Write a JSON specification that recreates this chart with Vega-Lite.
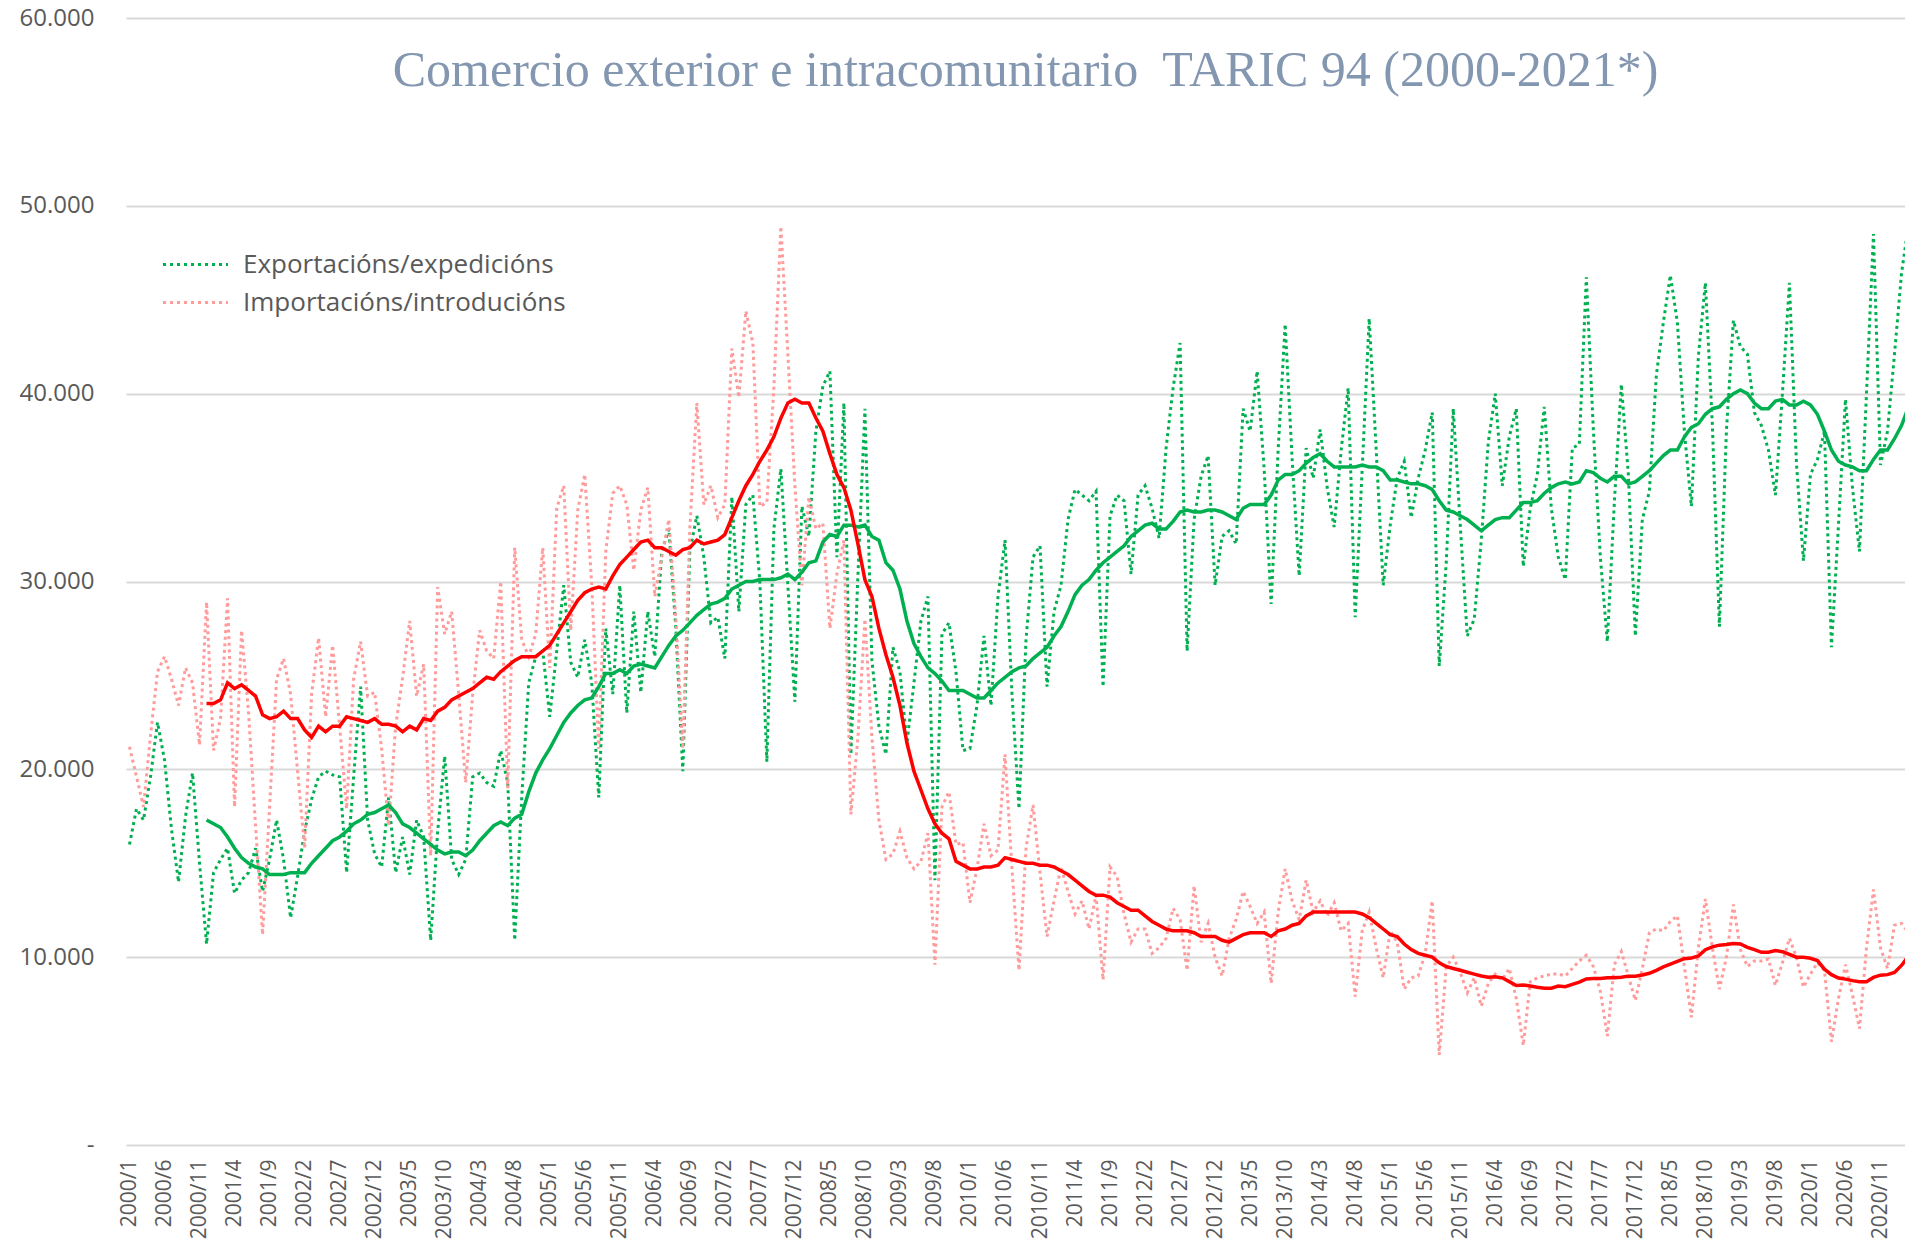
{
"$schema": "https://vega.github.io/schema/vega-lite/v6.json",
"width": 1779, "height": 1127,
"autosize": {"type": "none"},
"padding": {"left": 126, "top": 18, "right": 0, "bottom": 100},
"background": "white",
"config": {"view": {"stroke": null},
  "axisY": {"labelFont": "Open Sans", "labelFontSize": 24, "labelColor": "#595959", "labelPadding": 32,
            "ticks": false, "tickSize": 0, "domain": false, "grid": true, "gridColor": "#D9D9D9", "gridWidth": 2, "tickCount": 6}},
"title": {"text": "Comercio exterior e intracomunitario\u00a0 TARIC 94 (2000-2021*)", "font": "Liberation Serif", "fontSize": 50, "fontWeight": "normal", "color": "#8497B0", "anchor": "middle", "frame": "group", "offset": -90, "dx": 10},
"data": {"values": [
{"i":0,"exp":16000,"imp":21200},{"i":1,"exp":17900,"imp":19600},{"i":2,"exp":17300,"imp":18000},{"i":3,"exp":19600,"imp":21800},{"i":4,"exp":22500,"imp":25200},{"i":5,"exp":20500,"imp":26000},{"i":6,"exp":16800,"imp":24800},{"i":7,"exp":14000,"imp":23400},{"i":8,"exp":17500,"imp":25400},{"i":9,"exp":19800,"imp":24600},{"i":10,"exp":15000,"imp":21300},
{"i":11,"exp":10700,"imp":28900,"expMA":17300,"impMA":23500},{"i":12,"exp":14500,"imp":21000,"expMA":17100,"impMA":23500},{"i":13,"exp":15200,"imp":22700,"expMA":16900,"impMA":23700},{"i":14,"exp":15800,"imp":29100,"expMA":16400,"impMA":24600},{"i":15,"exp":13400,"imp":18000,"expMA":15800,"impMA":24300},{"i":16,"exp":14100,"imp":27400,"expMA":15300,"impMA":24500},{"i":17,"exp":14500,"imp":23000,"expMA":15000,"impMA":24200},{"i":18,"exp":15800,"imp":17000,"expMA":14800,"impMA":23900},{"i":19,"exp":13500,"imp":11200,"expMA":14700,"impMA":22900},{"i":20,"exp":15200,"imp":18000,"expMA":14400,"impMA":22700},
{"i":21,"exp":17300,"imp":24800,"expMA":14400,"impMA":22800},{"i":22,"exp":15200,"imp":25900,"expMA":14400,"impMA":23100},{"i":23,"exp":12100,"imp":24000,"expMA":14500,"impMA":22700},{"i":24,"exp":14300,"imp":19900,"expMA":14500,"impMA":22700},{"i":25,"exp":16700,"imp":15800,"expMA":14500,"impMA":22100},{"i":26,"exp":18400,"imp":24000,"expMA":15000,"impMA":21700},{"i":27,"exp":19600,"imp":27000,"expMA":15400,"impMA":22300},{"i":28,"exp":19900,"imp":22800,"expMA":15800,"impMA":22000},{"i":29,"exp":19700,"imp":26600,"expMA":16200,"impMA":22300},{"i":30,"exp":19600,"imp":22300,"expMA":16400,"impMA":22300},
{"i":31,"exp":14500,"imp":17900,"expMA":16700,"impMA":22800},{"i":32,"exp":19600,"imp":24800,"expMA":17100,"impMA":22700},{"i":33,"exp":24400,"imp":26800,"expMA":17300,"impMA":22600},{"i":34,"exp":17300,"imp":23900,"expMA":17600,"impMA":22500},{"i":35,"exp":15500,"imp":24100,"expMA":17700,"impMA":22700},{"i":36,"exp":14800,"imp":21100,"expMA":17900,"impMA":22400},{"i":37,"exp":18500,"imp":17000,"expMA":18100,"impMA":22400},{"i":38,"exp":14500,"imp":22300,"expMA":17700,"impMA":22300},{"i":39,"exp":16400,"imp":24900,"expMA":17100,"impMA":22000},{"i":40,"exp":14400,"imp":27900,"expMA":16900,"impMA":22300},
{"i":41,"exp":17300,"imp":23900,"expMA":16600,"impMA":22100},{"i":42,"exp":16400,"imp":25600,"expMA":16300,"impMA":22700},{"i":43,"exp":10900,"imp":15400,"expMA":16000,"impMA":22600},{"i":44,"exp":16700,"imp":29700,"expMA":15700,"impMA":23100},{"i":45,"exp":20700,"imp":27200,"expMA":15500,"impMA":23300},{"i":46,"exp":15200,"imp":28400,"expMA":15600,"impMA":23700},{"i":47,"exp":14400,"imp":24000,"expMA":15600,"impMA":23900},{"i":48,"exp":15200,"imp":19300,"expMA":15400,"impMA":24100},{"i":49,"exp":19600,"imp":24000,"expMA":15700,"impMA":24300},{"i":50,"exp":19800,"imp":27400,"expMA":16200,"impMA":24600},
{"i":51,"exp":19300,"imp":26300,"expMA":16600,"impMA":24900},{"i":52,"exp":19100,"imp":25900,"expMA":17000,"impMA":24800},{"i":53,"exp":21000,"imp":30000,"expMA":17200,"impMA":25200},{"i":54,"exp":19300,"imp":19000,"expMA":17000,"impMA":25500},{"i":55,"exp":10900,"imp":31800,"expMA":17400,"impMA":25800},{"i":56,"exp":18500,"imp":26900,"expMA":17600,"impMA":26000},{"i":57,"exp":24600,"imp":26000,"expMA":18800,"impMA":26000},{"i":58,"exp":26000,"imp":27200,"expMA":19800,"impMA":26000},{"i":59,"exp":26300,"imp":31800,"expMA":20500,"impMA":26300},{"i":60,"exp":22800,"imp":25400,"expMA":21100,"impMA":26600},
{"i":61,"exp":26300,"imp":33900,"expMA":21800,"impMA":27200},{"i":62,"exp":29800,"imp":35100,"expMA":22500,"impMA":27800},{"i":63,"exp":25700,"imp":27400,"expMA":23000,"impMA":28400},{"i":64,"exp":24900,"imp":33800,"expMA":23400,"impMA":29000},{"i":65,"exp":26900,"imp":35700,"expMA":23700,"impMA":29400},{"i":66,"exp":24600,"imp":29800,"expMA":23800,"impMA":29600},{"i":67,"exp":18500,"imp":21100,"expMA":24400,"impMA":29700},{"i":68,"exp":27500,"imp":31600,"expMA":25100,"impMA":29600},{"i":69,"exp":24000,"imp":34700,"expMA":25100,"impMA":30300},{"i":70,"exp":29800,"imp":35100,"expMA":25300,"impMA":30900},
{"i":71,"exp":23000,"imp":34100,"expMA":25100,"impMA":31300},{"i":72,"exp":28400,"imp":30600,"expMA":25500,"impMA":31700},{"i":73,"exp":24100,"imp":33800,"expMA":25600,"impMA":32100},{"i":74,"exp":28400,"imp":35000,"expMA":25500,"impMA":32200},{"i":75,"exp":26000,"imp":29200,"expMA":25400,"impMA":31800},{"i":76,"exp":31600,"imp":31300,"expMA":26000,"impMA":31800},{"i":77,"exp":32800,"imp":33300,"expMA":26600,"impMA":31600},{"i":78,"exp":27500,"imp":28100,"expMA":27100,"impMA":31400},{"i":79,"exp":19900,"imp":21100,"expMA":27400,"impMA":31700},{"i":80,"exp":31600,"imp":32800,"expMA":27800,"impMA":31800},
{"i":81,"exp":33500,"imp":39500,"expMA":28200,"impMA":32200},{"i":82,"exp":31300,"imp":34100,"expMA":28500,"impMA":32000},{"i":83,"exp":27800,"imp":35100,"expMA":28800,"impMA":32100},{"i":84,"exp":28100,"imp":33400,"expMA":28900,"impMA":32200},{"i":85,"exp":25900,"imp":34100,"expMA":29100,"impMA":32500},{"i":86,"exp":34500,"imp":42400,"expMA":29600,"impMA":33400},{"i":87,"exp":28400,"imp":39800,"expMA":29800,"impMA":34300},{"i":88,"exp":34100,"imp":44400,"expMA":30000,"impMA":35100},{"i":89,"exp":34600,"imp":42700,"expMA":30000,"impMA":35700},{"i":90,"exp":30000,"imp":34000,"expMA":30100,"impMA":36400},
{"i":91,"exp":20400,"imp":34200,"expMA":30100,"impMA":37000},{"i":92,"exp":32800,"imp":40300,"expMA":30100,"impMA":37700},{"i":93,"exp":36000,"imp":48900,"expMA":30200,"impMA":38700},{"i":94,"exp":29800,"imp":42100,"expMA":30400,"impMA":39500},{"i":95,"exp":23600,"imp":35100,"expMA":30100,"impMA":39700},{"i":96,"exp":34000,"imp":29800,"expMA":30500,"impMA":39500},{"i":97,"exp":32400,"imp":34500,"expMA":31000,"impMA":39500},{"i":98,"exp":38000,"imp":32800,"expMA":31100,"impMA":38700},{"i":99,"exp":40400,"imp":33100,"expMA":32100,"impMA":38000},{"i":100,"exp":41200,"imp":27500,"expMA":32500,"impMA":36800},
{"i":101,"exp":31300,"imp":30400,"expMA":32400,"impMA":35700},{"i":102,"exp":39500,"imp":32200,"expMA":33000,"impMA":35000},{"i":103,"exp":20800,"imp":17600,"expMA":33000,"impMA":33800},{"i":104,"exp":30300,"imp":21700,"expMA":32900,"impMA":32000},{"i":105,"exp":39200,"imp":28000,"expMA":33000,"impMA":30100},{"i":106,"exp":25800,"imp":21700,"expMA":32400,"impMA":29200},{"i":107,"exp":22300,"imp":17300,"expMA":32200,"impMA":27500},{"i":108,"exp":20800,"imp":15200,"expMA":31000,"impMA":26100},{"i":109,"exp":26500,"imp":15500,"expMA":30600,"impMA":24900},{"i":110,"exp":25200,"imp":16700,"expMA":29600,"impMA":23400},
{"i":111,"exp":21400,"imp":15300,"expMA":27900,"impMA":21400},{"i":112,"exp":24600,"imp":14700,"expMA":26700,"impMA":19900},{"i":113,"exp":27900,"imp":15100,"expMA":26000,"impMA":18900},{"i":114,"exp":29200,"imp":16600,"expMA":25400,"impMA":17900},{"i":115,"exp":14100,"imp":9600,"expMA":25100,"impMA":17100},{"i":116,"exp":27200,"imp":18000,"expMA":24700,"impMA":16600},{"i":117,"exp":27800,"imp":18800,"expMA":24200,"impMA":16300},{"i":118,"exp":25200,"imp":16000,"expMA":24200,"impMA":15100},{"i":119,"exp":21000,"imp":16100,"expMA":24200,"impMA":14900},{"i":120,"exp":21100,"imp":12900,"expMA":24000,"impMA":14700},
{"i":121,"exp":23400,"imp":14700,"expMA":23800,"impMA":14700},{"i":122,"exp":27100,"imp":17100,"expMA":23800,"impMA":14800},{"i":123,"exp":23400,"imp":15400,"expMA":24200,"impMA":14800},{"i":124,"exp":29200,"imp":15700,"expMA":24600,"impMA":14900},{"i":125,"exp":32200,"imp":20800,"expMA":24900,"impMA":15300},{"i":126,"exp":24000,"imp":14700,"expMA":25200,"impMA":15200},{"i":127,"exp":17900,"imp":9300,"expMA":25400,"impMA":15100},{"i":128,"exp":26900,"imp":15800,"expMA":25500,"impMA":15000},{"i":129,"exp":31300,"imp":18100,"expMA":25900,"impMA":15000},{"i":130,"exp":31900,"imp":14500,"expMA":26200,"impMA":14900},
{"i":131,"exp":24400,"imp":11100,"expMA":26500,"impMA":14900},{"i":132,"exp":28400,"imp":13000,"expMA":27100,"impMA":14800},{"i":133,"exp":29800,"imp":14800,"expMA":27600,"impMA":14600},{"i":134,"exp":33300,"imp":13500,"expMA":28400,"impMA":14400},{"i":135,"exp":34900,"imp":12300,"expMA":29300,"impMA":14100},{"i":136,"exp":34600,"imp":13000,"expMA":29800,"impMA":13800},{"i":137,"exp":34300,"imp":11500,"expMA":30100,"impMA":13500},{"i":138,"exp":34800,"imp":13300,"expMA":30600,"impMA":13300},{"i":139,"exp":24400,"imp":8800,"expMA":31000,"impMA":13300},{"i":140,"exp":33500,"imp":14800,"expMA":31300,"impMA":13200},
{"i":141,"exp":34600,"imp":14300,"expMA":31600,"impMA":12900},{"i":142,"exp":34300,"imp":12300,"expMA":31900,"impMA":12700},{"i":143,"exp":30400,"imp":10800,"expMA":32400,"impMA":12500},{"i":144,"exp":34600,"imp":11500,"expMA":32700,"impMA":12500},{"i":145,"exp":35100,"imp":11500,"expMA":33000,"impMA":12200},{"i":146,"exp":33900,"imp":10200,"expMA":33100,"impMA":11900},{"i":147,"exp":32300,"imp":10500,"expMA":32800,"impMA":11700},{"i":148,"exp":37100,"imp":11000,"expMA":32800,"impMA":11500},{"i":149,"exp":40300,"imp":12600,"expMA":33200,"impMA":11400},{"i":150,"exp":42700,"imp":12000,"expMA":33700,"impMA":11400},
{"i":151,"exp":26300,"imp":9300,"expMA":33800,"impMA":11400},{"i":152,"exp":33300,"imp":13800,"expMA":33700,"impMA":11300},{"i":153,"exp":35600,"imp":10800,"expMA":33700,"impMA":11100},{"i":154,"exp":36700,"imp":11800,"expMA":33800,"impMA":11100},{"i":155,"exp":29800,"imp":10000,"expMA":33800,"impMA":11100},{"i":156,"exp":32400,"imp":9000,"expMA":33700,"impMA":10900},{"i":157,"exp":32700,"imp":11000,"expMA":33500,"impMA":10800},{"i":158,"exp":32000,"imp":12000,"expMA":33300,"impMA":11000},{"i":159,"exp":39200,"imp":13500,"expMA":33900,"impMA":11200},{"i":160,"exp":38000,"imp":12700,"expMA":34100,"impMA":11300},
{"i":161,"exp":41200,"imp":11800,"expMA":34100,"impMA":11300},{"i":162,"exp":36000,"imp":12400,"expMA":34100,"impMA":11300},{"i":163,"exp":28800,"imp":8600,"expMA":34600,"impMA":11100},{"i":164,"exp":37000,"imp":12400,"expMA":35400,"impMA":11400},{"i":165,"exp":43700,"imp":14700,"expMA":35700,"impMA":11500},{"i":166,"exp":36500,"imp":13000,"expMA":35700,"impMA":11700},{"i":167,"exp":30300,"imp":12000,"expMA":35900,"impMA":11800},{"i":168,"exp":37100,"imp":14100,"expMA":36300,"impMA":12200},{"i":169,"exp":35500,"imp":12400,"expMA":36600,"impMA":12400},{"i":170,"exp":38100,"imp":13000,"expMA":36800,"impMA":12400},
{"i":171,"exp":35000,"imp":12200,"expMA":36400,"impMA":12400},{"i":172,"exp":32900,"imp":12900,"expMA":36100,"impMA":12400},{"i":173,"exp":37000,"imp":11400,"expMA":36100,"impMA":12400},{"i":174,"exp":40300,"imp":11800,"expMA":36100,"impMA":12400},{"i":175,"exp":28100,"imp":7900,"expMA":36100,"impMA":12400},{"i":176,"exp":36000,"imp":11400,"expMA":36200,"impMA":12300},{"i":177,"exp":44000,"imp":12400,"expMA":36100,"impMA":12100},{"i":178,"exp":37000,"imp":10500,"expMA":36100,"impMA":11800},{"i":179,"exp":29800,"imp":8900,"expMA":35900,"impMA":11500},{"i":180,"exp":33000,"imp":11400,"expMA":35400,"impMA":11200},
{"i":181,"exp":35500,"imp":10800,"expMA":35400,"impMA":11100},{"i":182,"exp":36400,"imp":8300,"expMA":35300,"impMA":10700},{"i":183,"exp":33400,"imp":8900,"expMA":35200,"impMA":10400},{"i":184,"exp":35500,"imp":9000,"expMA":35200,"impMA":10200},{"i":185,"exp":37000,"imp":10200,"expMA":35100,"impMA":10100},{"i":186,"exp":39000,"imp":13000,"expMA":34900,"impMA":10000},{"i":187,"exp":25500,"imp":4800,"expMA":34300,"impMA":9700},{"i":188,"exp":31000,"imp":9500,"expMA":33800,"impMA":9500},{"i":189,"exp":39200,"imp":10000,"expMA":33700,"impMA":9400},{"i":190,"exp":33000,"imp":9200,"expMA":33500,"impMA":9300},
{"i":191,"exp":27100,"imp":8100,"expMA":33300,"impMA":9200},{"i":192,"exp":28000,"imp":8900,"expMA":33000,"impMA":9100},{"i":193,"exp":32200,"imp":7400,"expMA":32700,"impMA":9000},{"i":194,"exp":37400,"imp":8600,"expMA":33000,"impMA":8930},{"i":195,"exp":40000,"imp":9100,"expMA":33300,"impMA":8960},{"i":196,"exp":35100,"imp":8800,"expMA":33400,"impMA":8900},{"i":197,"exp":37700,"imp":9400,"expMA":33400,"impMA":8700},{"i":198,"exp":39200,"imp":7800,"expMA":33800,"impMA":8490},{"i":199,"exp":30800,"imp":5300,"expMA":34200,"impMA":8520},{"i":200,"exp":33900,"imp":8700,"expMA":34200,"impMA":8460},
{"i":201,"exp":35700,"imp":8900,"expMA":34300,"impMA":8400},{"i":202,"exp":39300,"imp":9000,"expMA":34700,"impMA":8350},{"i":203,"exp":33900,"imp":9100,"expMA":35000,"impMA":8350},{"i":204,"exp":31300,"imp":9100,"expMA":35200,"impMA":8460},{"i":205,"exp":30100,"imp":9000,"expMA":35300,"impMA":8430},{"i":206,"exp":37100,"imp":9400,"expMA":35200,"impMA":8550},{"i":207,"exp":37300,"imp":9800,"expMA":35300,"impMA":8670},{"i":208,"exp":46200,"imp":10100,"expMA":35900,"impMA":8840},{"i":209,"exp":38100,"imp":9500,"expMA":35800,"impMA":8870},{"i":210,"exp":31300,"imp":8200,"expMA":35500,"impMA":8870},
{"i":211,"exp":26800,"imp":5800,"expMA":35300,"impMA":8900},{"i":212,"exp":34200,"imp":9600,"expMA":35600,"impMA":8900},{"i":213,"exp":40500,"imp":10300,"expMA":35600,"impMA":8930},{"i":214,"exp":35700,"imp":9000,"expMA":35200,"impMA":8990},{"i":215,"exp":27100,"imp":7700,"expMA":35300,"impMA":8990},{"i":216,"exp":33300,"imp":9400,"expMA":35600,"impMA":9050},{"i":217,"exp":34800,"imp":11300,"expMA":35900,"impMA":9140},{"i":218,"exp":41000,"imp":11500,"expMA":36300,"impMA":9300},{"i":219,"exp":43800,"imp":11400,"expMA":36700,"impMA":9480},{"i":220,"exp":46300,"imp":11900,"expMA":37000,"impMA":9630},
{"i":221,"exp":43800,"imp":12200,"expMA":37000,"impMA":9770},{"i":222,"exp":38000,"imp":9500,"expMA":37700,"impMA":9920},{"i":223,"exp":34000,"imp":6800,"expMA":38200,"impMA":9950},{"i":224,"exp":42000,"imp":10500,"expMA":38400,"impMA":10060},{"i":225,"exp":45900,"imp":13100,"expMA":38900,"impMA":10400},{"i":226,"exp":38300,"imp":10500,"expMA":39200,"impMA":10550},{"i":227,"exp":27600,"imp":8300,"expMA":39300,"impMA":10640},{"i":228,"exp":38000,"imp":10000,"expMA":39700,"impMA":10670},{"i":229,"exp":43900,"imp":12800,"expMA":40000,"impMA":10730},{"i":230,"exp":42500,"imp":10400,"expMA":40200,"impMA":10700},
{"i":231,"exp":42100,"imp":9500,"expMA":40000,"impMA":10520},{"i":232,"exp":39000,"imp":9800,"expMA":39500,"impMA":10400},{"i":233,"exp":38300,"imp":9800,"expMA":39200,"impMA":10260},{"i":234,"exp":37000,"imp":9900,"expMA":39200,"impMA":10260},{"i":235,"exp":34600,"imp":8500,"expMA":39600,"impMA":10350},{"i":236,"exp":40000,"imp":9700,"expMA":39700,"impMA":10290},{"i":237,"exp":45900,"imp":11000,"expMA":39400,"impMA":10150},{"i":238,"exp":36300,"imp":10000,"expMA":39400,"impMA":10000},{"i":239,"exp":31100,"imp":8400,"expMA":39600,"impMA":10000},{"i":240,"exp":35700,"imp":9100,"expMA":39400,"impMA":9940},
{"i":241,"exp":36500,"imp":9700,"expMA":38900,"impMA":9820},{"i":242,"exp":38000,"imp":9300,"expMA":38000,"impMA":9360},{"i":243,"exp":26500,"imp":5500,"expMA":37000,"impMA":9070},{"i":244,"exp":33000,"imp":7800,"expMA":36400,"impMA":8890},{"i":245,"exp":39700,"imp":9600,"expMA":36200,"impMA":8830},{"i":246,"exp":35000,"imp":8000,"expMA":36100,"impMA":8750},{"i":247,"exp":31600,"imp":6200,"expMA":35900,"impMA":8690},{"i":248,"exp":40000,"imp":10500,"expMA":35900,"impMA":8690},{"i":249,"exp":48500,"imp":13600,"expMA":36500,"impMA":8920},{"i":250,"exp":36200,"imp":10500,"expMA":37000,"impMA":9040},
{"i":251,"exp":38000,"imp":9400,"expMA":37000,"impMA":9070},{"i":252,"exp":42100,"imp":11700,"expMA":37600,"impMA":9190},{"i":253,"exp":46400,"imp":11800,"expMA":38300,"impMA":9560},{"i":254,"exp":49000,"imp":11300,"expMA":39300,"impMA":10060}
]},
"encoding": {
  "x": {"field": "i", "type": "quantitative",
        "scale": {"domain": [-0.5, 253.5], "nice": false, "zero": false},
        "axis": {"title": null, "values": [0,5,10,15,20,25,30,35,40,45,50,55,60,65,70,75,80,85,90,95,100,105,110,115,120,125,130,135,140,145,150,155,160,165,170,175,180,185,190,195,200,205,210,215,220,225,230,235,240,245,250],
                 "labelExpr": "toString(2000 + floor(datum.value / 12)) + '/' + toString(datum.value % 12 + 1)",
                 "labelAngle": -90, "labelFont": "Open Sans", "labelFontSize": 21, "labelColor": "#595959",
                 "labelPadding": 14, "ticks": false, "tickSize": 0, "domain": false, "grid": false, "labelOverlap": false, "labelBound": false, "labelFlush": false}}
},
"layer": [
  {"mark": {"type": "line", "strokeWidth": 3, "strokeDash": [3, 3.6], "clip": true},
   "encoding": {
     "y": {"field": "exp", "type": "quantitative", "scale": {"domain": [0, 60000], "nice": false},
           "axis": {"title": null, "labelExpr": "datum.value == 0 ? '-' : replace(format(datum.value, ',.0f'), ',', '.')"}},
     "color": {"datum": "Exportacións/expedicións", "type": "nominal",
               "scale": {"domain": ["Exportacións/expedicións", "Importacións/introducións"], "range": ["#00B050", "#FF9B9B"]},
               "legend": {"title": null, "orient": "none", "legendX": 55, "legendY": 232, "padding": 0,
                          "labelFont": "Open Sans", "labelFontSize": 26, "labelColor": "#595959", "labelLimit": 0,
                          "symbolType": "M-2.5,0L2.5,0", "symbolSize": 676, "symbolStrokeWidth": 3, "symbolDash": [3, 4],
                          "labelOffset": 33, "rowPadding": 10}}
   }},
  {"mark": {"type": "line", "strokeWidth": 3, "strokeDash": [3, 3.6], "clip": true},
   "encoding": {
     "y": {"field": "imp", "type": "quantitative",
           "axis": {"title": null, "labelExpr": "datum.value == 0 ? '-' : replace(format(datum.value, ',.0f'), ',', '.')"}},
     "color": {"datum": "Importacións/introducións", "type": "nominal"}
   }},
  {"mark": {"type": "line", "strokeWidth": 3.5, "color": "#00B050", "clip": true},
   "encoding": {"y": {"field": "expMA", "type": "quantitative",
           "axis": {"title": null, "labelExpr": "datum.value == 0 ? '-' : replace(format(datum.value, ',.0f'), ',', '.')"}}}},
  {"mark": {"type": "line", "strokeWidth": 3.5, "color": "#FF0000", "clip": true},
   "encoding": {"y": {"field": "impMA", "type": "quantitative",
           "axis": {"title": null, "labelExpr": "datum.value == 0 ? '-' : replace(format(datum.value, ',.0f'), ',', '.')"}}}}
]
}
